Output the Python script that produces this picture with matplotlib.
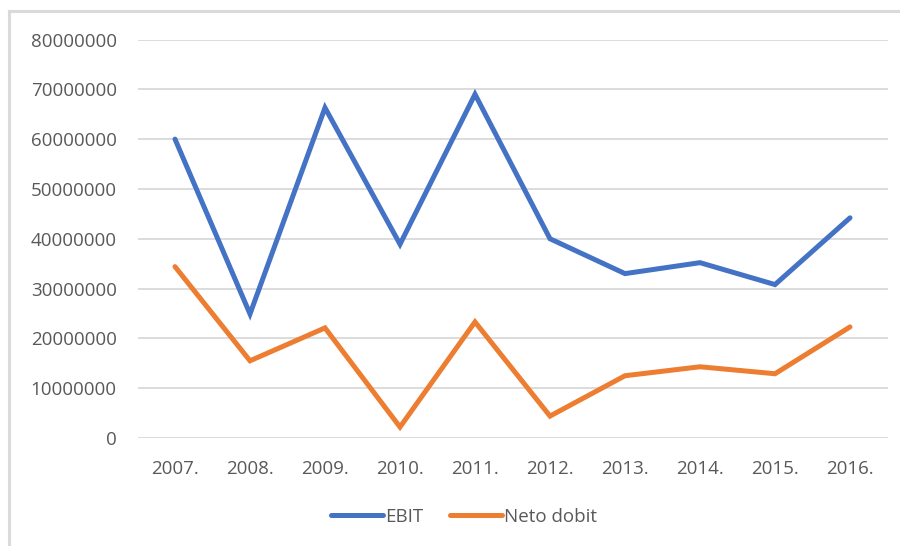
import matplotlib
matplotlib.use('Agg')
import matplotlib.pyplot as plt
from matplotlib.lines import Line2D

years = ['2007.', '2008.', '2009.', '2010.', '2011.', '2012.', '2013.', '2014.', '2015.', '2016.']
ebit = [60000000, 24900000, 66300000, 38900000, 69000000, 40000000, 33000000, 35200000, 30800000, 44200000]
neto_dobit = [34400000, 15500000, 22100000, 2200000, 23300000, 4400000, 12500000, 14300000, 12900000, 22300000]
yticks = list(range(0, 80000001, 10000000))

plt.rcParams['font.family'] = ['Open Sans', 'DejaVu Sans']
text_color = '#595959'

fig = plt.figure(figsize=(9, 5.46), dpi=100)
ax = fig.add_axes([137.5 / 900, (546 - 438) / 546, 750 / 900, 398.5 / 546])

x = range(len(years))
ax.plot(x, ebit, color='#4472C4', linewidth=3.6, solid_capstyle='round', solid_joinstyle='miter', label='EBIT')
ax.plot(x, neto_dobit, color='#ED7D31', linewidth=3.6, solid_capstyle='round', solid_joinstyle='miter', label='Neto dobit')

ax.set_xlim(-0.5, len(years) - 0.5)
ax.set_ylim(0, 80000000)
ax.set_yticks(yticks)
ax.set_yticklabels([str(v) for v in yticks])
ax.set_xticks(list(x))
ax.set_xticklabels(years)
ax.tick_params(axis='both', length=0, labelsize=13.5, labelcolor=text_color)
ax.tick_params(axis='y', pad=15)
ax.tick_params(axis='x', pad=16)
ax.grid(axis='y', color='#D9D9D9', linewidth=1.3)
ax.set_axisbelow(True)
for s in ax.spines.values():
    s.set_visible(False)

handles = [Line2D([], [], color='#4472C4', linewidth=3.6, solid_capstyle='round'),
           Line2D([], [], color='#ED7D31', linewidth=3.6, solid_capstyle='round')]
fig.legend(handles, ['EBIT', 'Neto dobit'], loc='center', bbox_to_anchor=(464 / 900, 1 - 517 / 546),
           ncol=2, frameon=False, fontsize=13.5, labelcolor=text_color, handlelength=2.8,
           handletextpad=0.1, columnspacing=1.4)

# outer frame (top and left edges of the screenshot border)
fig.add_artist(Line2D([9 / 900, 9 / 900], [0, 1 - 11 / 546], transform=fig.transFigure, color='#DADADA', linewidth=2.2))
fig.add_artist(Line2D([9 / 900, 1], [1 - 11 / 546, 1 - 11 / 546], transform=fig.transFigure, color='#DADADA', linewidth=2.2))

fig.savefig('out.png', dpi=100)
